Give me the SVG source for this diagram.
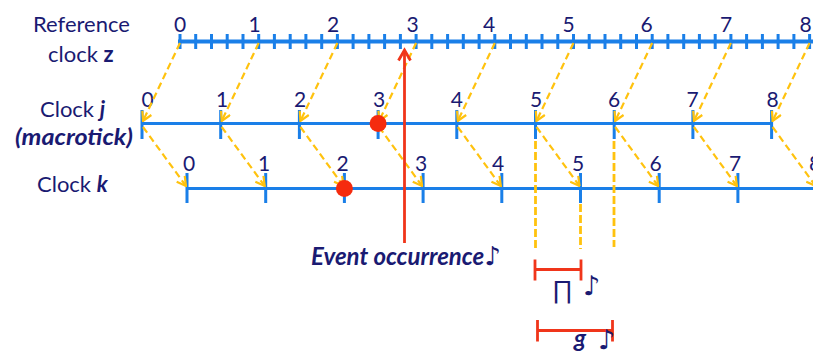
<svg xmlns="http://www.w3.org/2000/svg" width="813" height="354" viewBox="0 0 813 354">
<style>
text{font-family:Lato,"Open Sans","DejaVu Sans",sans-serif;fill:#1a1a72}
.lbl{font-size:22px}
.num{font-size:21px;text-anchor:middle}
.axis{stroke:#1a7fe8;fill:none}
.tick{stroke:#1a7fe8;stroke-width:3;fill:none}
.dash{stroke:#ffc20e;stroke-width:2.2;stroke-dasharray:7 4;fill:none;marker-end:url(#chev)}
.vdash{stroke:#ffc20e;stroke-width:2.8;stroke-dasharray:8 3;fill:none}
.red{stroke:#f0351a;stroke-width:2.8;fill:none}
.dot{fill:#f52b0e}
.bi{font-weight:bold;font-style:italic}
.note{font-family:"DejaVu Sans",sans-serif}
</style>
<defs>
<marker id="chev" viewBox="0 0 12 12" refX="11" refY="6" markerWidth="12" markerHeight="12" markerUnits="userSpaceOnUse" orient="auto">
<path d="M2,1 L11,6 L2,11" fill="none" stroke="#ffc20e" stroke-width="2.2"/>
</marker>
</defs>
<rect width="813" height="354" fill="#fff"/>

<g id="labels">
<text class="lbl" x="33" y="31.5">Reference</text>
<text class="lbl" x="48" y="61.5">clock <tspan font-weight="bold">z</tspan></text>
<text class="lbl" x="40" y="117">Clock <tspan class="bi">j</tspan></text>
<text class="lbl bi" x="15" y="145" font-size="23" textLength="118" lengthAdjust="spacingAndGlyphs">(macrotick)</text>
<text class="lbl" x="37" y="192">Clock <tspan class="bi">k</tspan></text>
</g>

<g id="clock-z">
<path class="axis" stroke-width="4" d="M178,41.5 H813"/>
<path class="tick" d="M180,34V49M195.7,34V49M211.5,34V49M227.2,34V49M243,34V49M258.7,34V49M274.4,34V49M290.2,34V49M305.9,34V49M321.7,34V49M337.4,34V49M353.1,34V49M368.9,34V49M384.6,34V49M400.4,34V49M416.1,34V49M431.8,34V49M447.6,34V49M463.3,34V49M479.1,34V49M494.8,34V49M510.5,34V49M526.3,34V49M542,34V49M557.8,34V49M573.5,34V49M589.2,34V49M605,34V49M620.7,34V49M636.5,34V49M652.2,34V49M667.9,34V49M683.7,34V49M699.4,34V49M715.2,34V49M730.9,34V49M746.6,34V49M762.4,34V49M778.1,34V49M793.9,34V49M809.6,34V49"/>
<text class="num" x="180" y="32">0</text>
<text class="num" x="254.5" y="32">1</text>
<text class="num" x="333" y="32">2</text>
<text class="num" x="412.5" y="32">3</text>
<text class="num" x="489" y="32">4</text>
<text class="num" x="568.5" y="32">5</text>
<text class="num" x="646.5" y="32">6</text>
<text class="num" x="726" y="32">7</text>
<text class="num" x="805.5" y="32">8</text>
</g>

<g id="clock-j">
<path class="axis" stroke-width="3" d="M141,123.5 H772.5"/>
<path class="tick" d="M142,110V139M220.7,110V139M299.4,110V139M378.1,110V139M456.8,110V139M535.5,110V139M614.2,110V139M692.9,110V139M771.6,110V139"/>
<text class="num" x="147.5" y="107">0</text>
<text class="num" x="222" y="107">1</text>
<text class="num" x="300" y="107">2</text>
<text class="num" x="379" y="107">3</text>
<text class="num" x="456.8" y="107">4</text>
<text class="num" x="536" y="107">5</text>
<text class="num" x="614" y="107">6</text>
<text class="num" x="692.5" y="107">7</text>
<text class="num" x="772.5" y="107">8</text>
</g>

<g id="clock-k">
<path class="axis" stroke-width="3" d="M186,188.5 H813"/>
<path class="tick" d="M187,173V203M265.7,173V203M344.4,173V203M423.1,173V203M501.8,173V203M580.5,173V203M659.2,173V203M737.9,173V203"/>
<text class="num" x="189" y="171">0</text>
<text class="num" x="264" y="171">1</text>
<text class="num" x="342.5" y="171">2</text>
<text class="num" x="421" y="171">3</text>
<text class="num" x="498" y="171">4</text>
<text class="num" x="578" y="171">5</text>
<text class="num" x="655.5" y="171">6</text>
<text class="num" x="735" y="171">7</text>
<text class="num" x="815" y="171">8</text>
</g>

<g id="connectors">
<path class="dash" d="M180,43 L143,121"/>
<path class="dash" d="M258.7,43 L221.7,121"/>
<path class="dash" d="M337.4,43 L300.4,121"/>
<path class="dash" d="M416.1,43 L379.1,121"/>
<path class="dash" d="M494.8,43 L457.8,121"/>
<path class="dash" d="M573.5,43 L536.5,121"/>
<path class="dash" d="M652.2,43 L615.2,121"/>
<path class="dash" d="M730.9,43 L693.9,121"/>
<path class="dash" d="M809.6,43 L772.6,121"/>
<path class="dash" d="M143,127 L186,186"/>
<path class="dash" d="M221.7,127 L264.7,186"/>
<path class="dash" d="M300.4,127 L343.4,186"/>
<path class="dash" d="M379.1,127 L422.1,186"/>
<path class="dash" d="M457.8,127 L500.8,186"/>
<path class="dash" d="M536.5,127 L579.5,186"/>
<path class="dash" d="M615.2,127 L658.2,186"/>
<path class="dash" d="M693.9,127 L736.9,186"/>
<path class="dash" d="M772.6,127 L815.6,186"/>
</g>

<g id="events">
<circle class="dot" cx="378.1" cy="123.5" r="8.5"/>
<circle class="dot" cx="344.4" cy="188.5" r="8.5"/>
<path class="red" stroke-width="3" d="M404.5,243 V51"/>
<path class="red" stroke-width="3" d="M398.5,60.5 L404.5,50 L410.5,60.5"/>
<text class="bi" font-size="24" x="311" y="265">Event occurrence<tspan class="note" font-size="26" font-weight="normal" font-style="normal">♪</tspan></text>
</g>

<g id="guides">
<path class="vdash" d="M535.5,141 V251"/>
<path class="vdash" d="M580.5,204 V249"/>
<path class="vdash" d="M614,141 V247"/>
</g>

<g id="bracket-pi">
<path class="red" d="M535,259.5 V280.5 M535,269.5 H581 M581,259.5 V280.5"/>
<text x="552" y="298" font-size="25" style="font-family:'Liberation Sans',sans-serif">∏</text>
<text class="note" x="583" y="295" font-size="27">♪</text>
</g>

<g id="bracket-g">
<path class="red" d="M537.5,320 V341.5 M537.5,330.5 H612.5 M612.5,320 V341.5"/>
<text class="bi" x="574" y="347" font-size="24">g</text>
<text class="note" x="598" y="349" font-size="27">♪</text>
</g>
</svg>
